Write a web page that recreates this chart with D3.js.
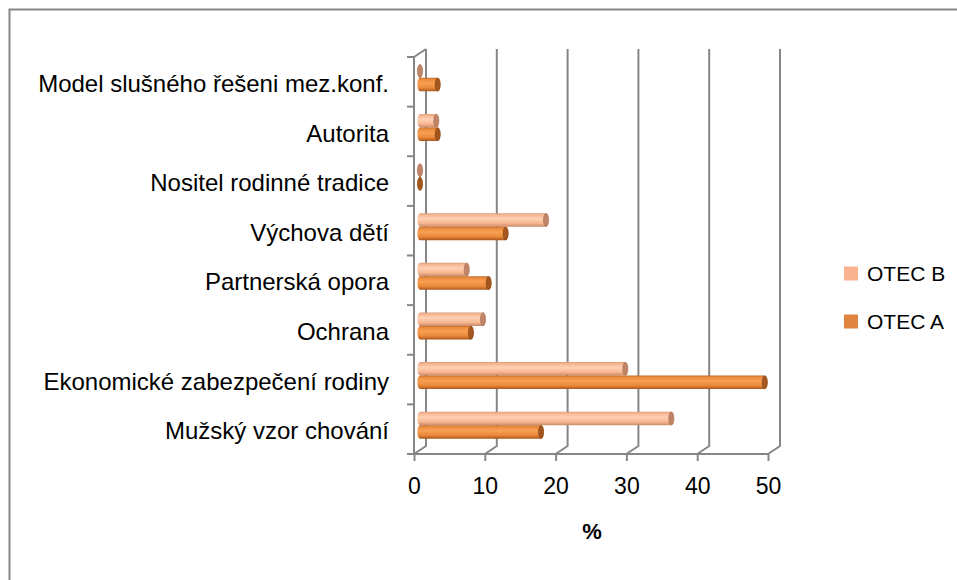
<!DOCTYPE html>
<html>
<head>
<meta charset="utf-8">
<script src="https://cdn.jsdelivr.net/npm/d3@7"></script>
<style>
  body { margin: 0; background: #fff; }
  text { font-family: "Liberation Sans", Arial, sans-serif; fill: #000; }
</style>
</head>
<body>
<svg id="chart"></svg>
<script>
// categories listed bottom to top, as in the source sheet
const categories = [
  "Mužský vzor chování",
  "Ekonomické zabezpečení rodiny",
  "Ochrana",
  "Partnerská opora",
  "Výchova dětí",
  "Nositel rodinné tradice",
  "Autorita",
  "Model slušného řešeni mez.konf."
];
const otecA = [17.1, 48.7, 7.2, 9.7, 12.1, 0, 2.5, 2.5];
const otecB = [35.5, 29.0, 8.9, 6.6, 17.8, 0, 2.3, 0];
const seriesNames = ["OTEC B", "OTEC A"];
const xTicks = [0, 10, 20, 30, 40, 50];

const W = 957, H = 580;
const depth = {dx: 12, dy: -8};   // offset of the back wall
const gridColor = "#868686";

const svg = d3.select("#chart").attr("width", W).attr("height", H);

// outer chart border (right and bottom run off the picture)
svg.append("rect")
  .attr("x", 9.5).attr("y", 9.5)
  .attr("width", W + 10).attr("height", H + 10)
  .attr("fill", "none").attr("stroke", gridColor).attr("stroke-width", 2);

// scales on the front plane
const x = d3.scaleLinear().domain([0, 50]).range([414, 768]);
const y = d3.scaleBand().domain(categories.slice().reverse()).range([57, 454]);
const ySeries = d3.scaleBand().domain(seriesNames).range([-13.5, 13.5]);

const defs = svg.append("defs");
function cylGradient(id, stops) {
  const g = defs.append("linearGradient").attr("id", id)
    .attr("x1", 0).attr("y1", 0).attr("x2", 0).attr("y2", 1);
  stops.forEach(s => g.append("stop").attr("offset", s[0]).attr("stop-color", s[1]));
}
cylGradient("gradB", [[0, "#d99a7a"], [0.12, "#f6b592"], [0.4, "#ffd0b2"], [0.75, "#f7b690"], [1, "#c9896a"]]);
cylGradient("gradA", [[0, "#c46a26"], [0.12, "#ec8b3f"], [0.4, "#f8a052"], [0.75, "#e9883a"], [1, "#a9561c"]]);

const seriesStyle = {
  "OTEC B": {fill: "url(#gradB)", cap: "#c08466", edge: "#a8715a", swatch: "#f9b48f", values: otecB},
  "OTEC A": {fill: "url(#gradA)", cap: "#a3571f", edge: "#8a4516", swatch: "#e08540", values: otecA}
};

// walls and floor
const walls = svg.append("g").attr("fill", "none").attr("stroke", gridColor).attr("stroke-width", 2);
const plotTop = y.range()[0], plotBottom = y.range()[1];

// left wall front edge and its top diagonal
walls.append("path").attr("d", `M${x(0)},${plotBottom}V${plotTop}l${depth.dx},${depth.dy}`);
// back wall gridlines, floor diagonals
xTicks.forEach(t => {
  walls.append("path")
    .attr("d", `M${x(t)},${plotBottom}l${depth.dx},${depth.dy}V${plotTop + depth.dy}`);
});
// floor front edge
walls.append("line")
  .attr("x1", x(0) - 7).attr("x2", x(50))
  .attr("y1", plotBottom).attr("y2", plotBottom);

// left axis ticks at band boundaries
const bandEdges = categories.map(c => y(c)).concat([plotBottom]);
walls.selectAll(".ytick").data(bandEdges).join("line")
  .attr("class", "ytick")
  .attr("x1", x(0) - 7).attr("x2", x(0))
  .attr("y1", d => d).attr("y2", d => d);

// x axis ticks and labels
const xAxis = d3.axisBottom(x).tickValues(xTicks).tickSize(7).tickPadding(17);
const xg = svg.append("g").attr("transform", `translate(0,${plotBottom})`).call(xAxis);
xg.select(".domain").remove();
xg.selectAll(".tick line").attr("stroke", gridColor).attr("stroke-width", 2);
xg.selectAll(".tick text").attr("font-size", 23).attr("font-family", "Liberation Sans, Arial, sans-serif");

// category labels
const yAxis = d3.axisLeft(y).tickSize(0).tickPadding(25);
const yg = svg.append("g").attr("transform", `translate(${x(0)},0)`).call(yAxis);
yg.select(".domain").remove();
yg.selectAll(".tick text").attr("font-size", 24).attr("dy", "0.42em")
  .attr("font-family", "Liberation Sans, Arial, sans-serif");

// cylinders sit half way into the depth
const midDx = depth.dx / 2, midDy = depth.dy / 2;
const rx = 2.6;
const barData = [];
categories.forEach((c, i) => {
  seriesNames.forEach(s => {
    barData.push({cat: c, series: s, value: seriesStyle[s].values[i]});
  });
});

const bars = svg.append("g").attr("class", "bars");
const barH = ySeries.bandwidth();
const bar = bars.selectAll("g").data(barData).join("g");

bar.append("path")
  .attr("fill", d => seriesStyle[d.series].fill)
  .attr("d", d => {
    const x0 = x(0) + midDx, x1 = x(d.value) + midDx;
    const y0 = y(d.cat) + y.bandwidth() / 2 + ySeries(d.series) + midDy;
    const ry = barH / 2;
    return `M${x0},${y0}L${x1},${y0}A${rx},${ry} 0 0 1 ${x1},${y0 + barH}` +
      `L${x0},${y0 + barH}A${rx},${ry} 0 0 1 ${x0},${y0}Z`;
  });

bar.append("ellipse")
  .attr("cx", d => x(d.value) + midDx)
  .attr("cy", d => y(d.cat) + y.bandwidth() / 2 + ySeries(d.series) + midDy + barH / 2)
  .attr("rx", rx).attr("ry", barH / 2 - 0.3)
  .attr("fill", d => seriesStyle[d.series].cap)
  .attr("stroke", d => seriesStyle[d.series].edge)
  .attr("stroke-width", 0.6);

// x axis title
svg.append("text")
  .attr("x", 592).attr("y", 539)
  .attr("text-anchor", "middle")
  .attr("font-size", 22).attr("font-weight", "bold")
  .text("%");

// legend
const legendY = d3.scalePoint().domain(seriesNames).range([273.5, 321.5]);
const legend = svg.append("g").selectAll("g").data(seriesNames).join("g")
  .attr("transform", d => `translate(844,${legendY(d)})`);
legend.append("rect")
  .attr("x", 0).attr("y", -7).attr("width", 14).attr("height", 14)
  .attr("fill", d => seriesStyle[d].swatch);
legend.append("text")
  .attr("x", 23).attr("y", 0).attr("dy", "0.36em")
  .attr("font-size", 21)
  .text(d => d);
</script>
</body>
</html>
